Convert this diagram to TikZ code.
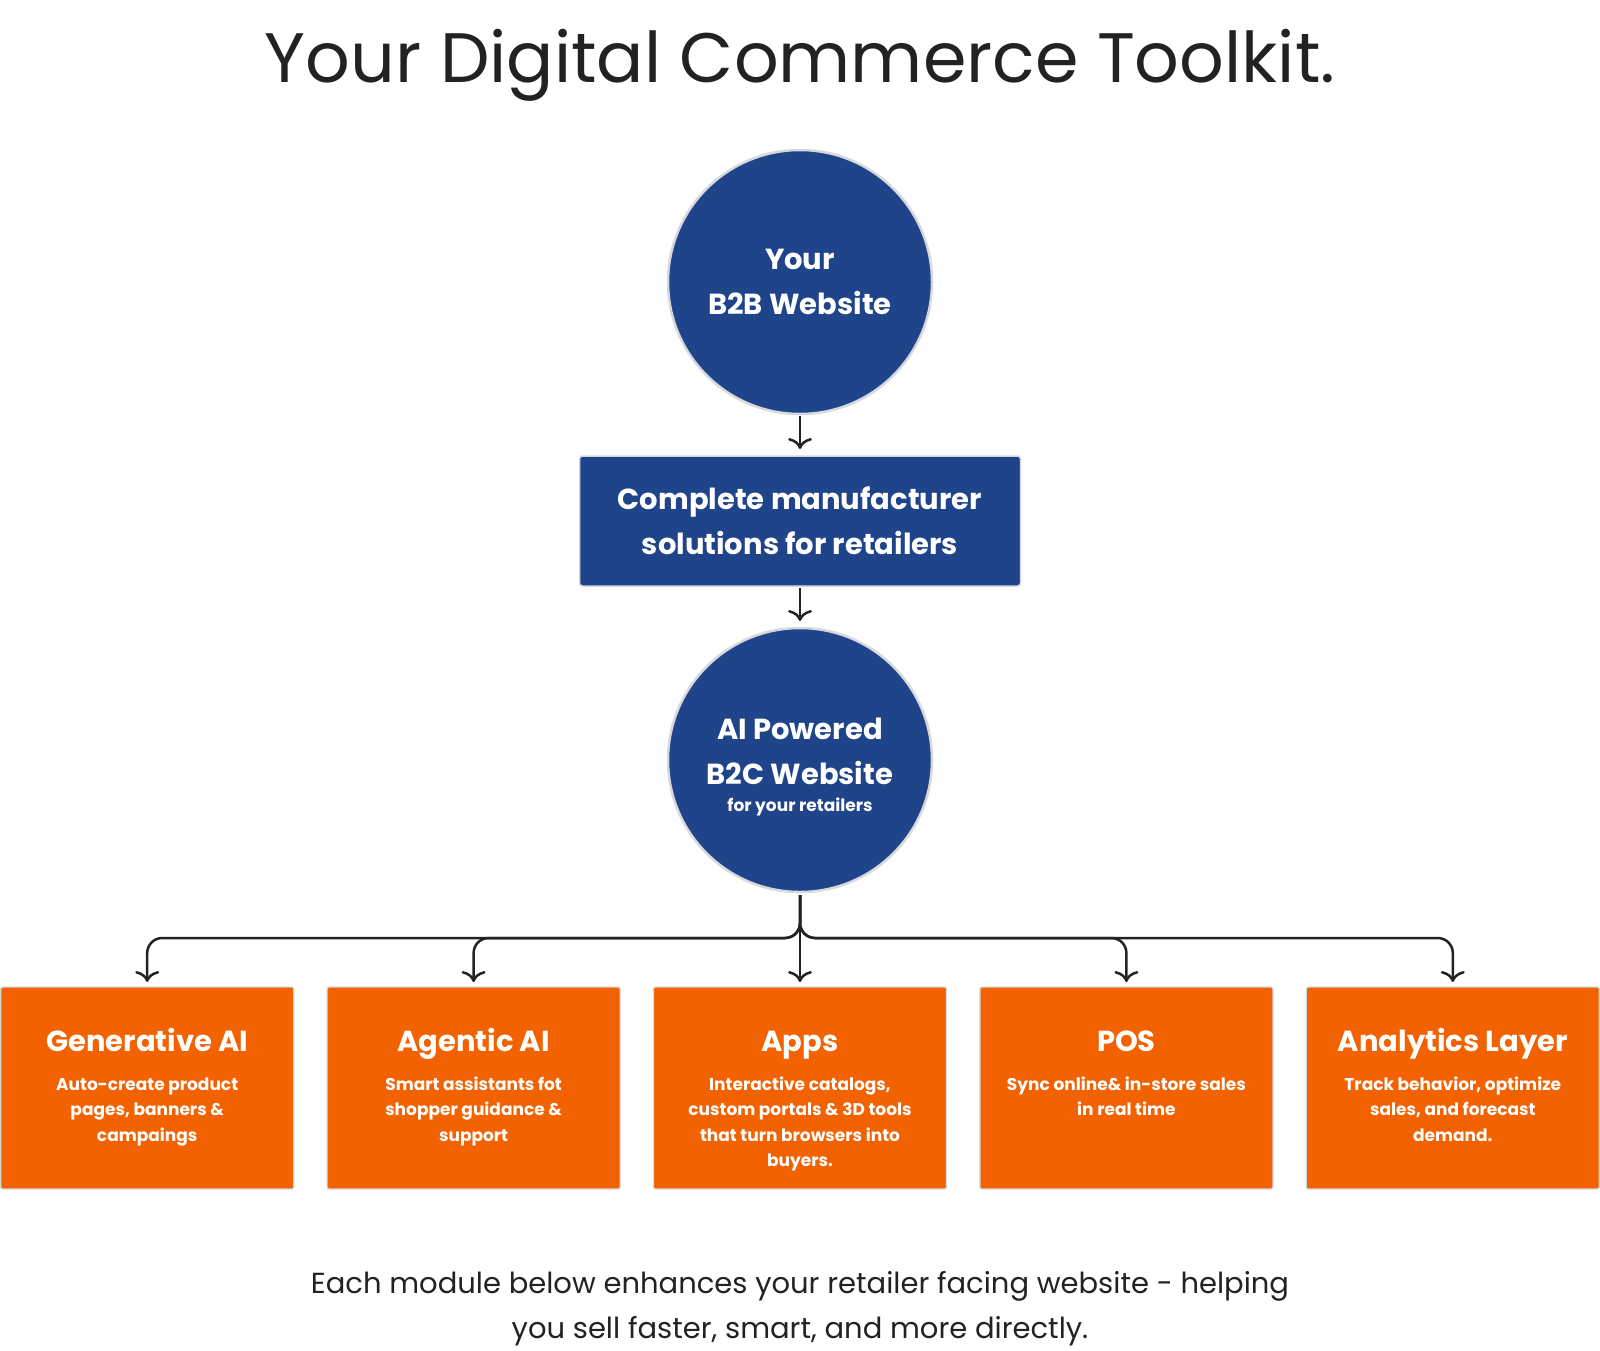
\documentclass[tikz,border=0pt]{standalone}
\usepackage{fontspec}
\setmainfont{Poppins}
\usetikzlibrary{arrows.meta,positioning}
\definecolor{DeepBlue}{HTML}{1F4489}
\definecolor{FlameOrange}{HTML}{F26200}
\definecolor{RimGray}{HTML}{D6D8DC}
\definecolor{InkDark}{HTML}{222222}
\tikzset{
  % Blue circle
  CB/.style={circle,minimum size=264pt,inner sep=0pt,outer sep=0pt,
             fill=DeepBlue,draw=RimGray,line width=2.5pt,
             text=white,align=center},
  % Blue banner
  RB/.style={rectangle,rounded corners=3pt,
             minimum width=441pt,minimum height=130pt,outer sep=0pt,
             fill=DeepBlue,draw=RimGray,line width=1.5pt,
             text=white,align=center,
             font=\fontsize{29}{45}\selectfont\bfseries},
  % Orange module box
  MB/.style={rectangle,rounded corners=2pt,
             minimum width=293pt,minimum height=202pt,
             inner sep=0pt,outer sep=0pt,
             fill=FlameOrange,draw=RimGray,line width=1.2pt,text=white},
  % Arrow
  arr/.style={-{To[length=11pt,width=24pt]},line width=2.5pt,draw=InkDark},
  % Text styles
  TT/.style={font=\fontsize{70}{84}\selectfont,text=InkDark},
  FT/.style={font=\fontsize{29}{45}\selectfont,text=InkDark,align=center}
}
\newcommand{\modtext}[2]{\parbox[c][190pt][t]{274pt}{\centering
  \rule{0pt}{58pt}{\fontsize{29}{36}\selectfont\bfseries #1\par}
  \vspace{13.6pt}
  {\fontsize{17}{25.5}\selectfont\bfseries #2\par}}}

\begin{document}
\begin{tikzpicture}[node distance=33.4pt]
  \useasboundingbox (0,0) rectangle (1600pt,-1350pt);

  \node[TT,anchor=base] (title) at (800pt,-82pt) {Your Digital Commerce Toolkit.};

  \node[CB,font=\fontsize{29}{45}\selectfont\bfseries]
        (b2b) at (800pt,-282pt) {Your\\B2B Website};
  \node[RB,below=42pt of b2b] (sol) {Complete manufacturer\\solutions for retailers};
  \node[CB,below=42pt of sol,font=\fontsize{29}{45}\selectfont\bfseries]
        (b2c) {\rule{0pt}{35pt}AI Powered\\B2C Website\\[-18pt]{\fontsize{17}{20}\selectfont for your retailers}};

  \node[MB,below=95pt of b2c]  (apps) {\modtext{Apps}{Interactive catalogs,\\custom portals \& 3D tools\\that turn browsers into\\buyers.}};
  \node[MB,left=of apps]       (agent){\modtext{Agentic AI}{Smart assistants fot\\shopper guidance \&\\support}};
  \node[MB,left=of agent]      (gen)  {\modtext{Generative AI}{Auto-create product\\pages, banners \&\\campaings}};
  \node[MB,right=of apps]      (pos)  {\modtext{POS}{Sync online\& in-store sales\\in real time}};
  \node[MB,right=of pos]       (ana)  {\modtext{Analytics Layer}{Track behavior, optimize\\sales, and forecast\\demand.}};

  \node[FT,below=79pt of apps] (foot) {Each module below enhances your retailer facing website - helping\\you sell faster, smart, and more directly.};

  \draw[arr,shorten <=2pt,shorten >=7pt](b2b)--(sol);
  \draw[arr,shorten <=2pt,shorten >=7pt](sol)--(b2c);
  \draw[arr,shorten <=3pt,shorten >=5pt](b2c)--(apps);
  \foreach \m in {gen,agent,pos,ana}
    \draw[arr,rounded corners=15pt,shorten <=3pt,shorten >=5pt]
      (b2c.south) -- ++(0,-46pt) -| (\m.north);
\end{tikzpicture}
\end{document}
